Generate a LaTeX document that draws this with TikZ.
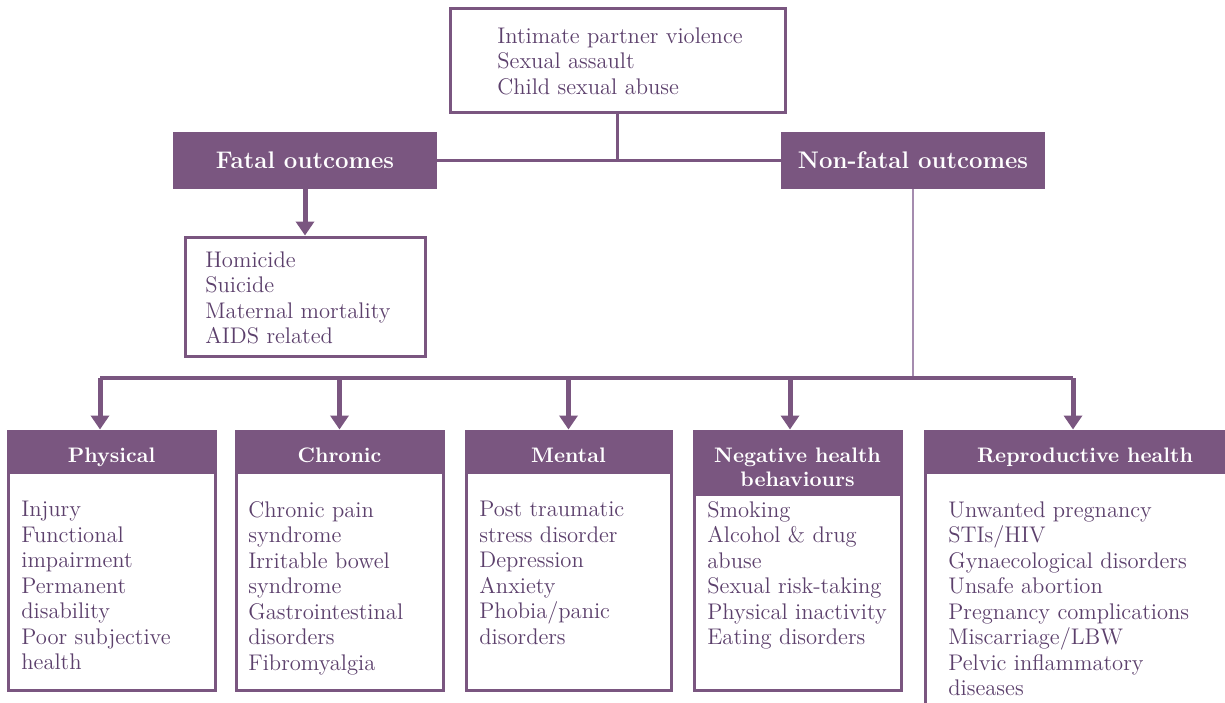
\documentclass[tikz,border=0pt]{standalone}
\usepackage{fontspec}
\usepackage{tikz}
\usetikzlibrary{arrows.meta}
\definecolor{plum}{RGB}{122,86,128}
\definecolor{plumtext}{RGB}{92,64,108}
\definecolor{plumlight}{RGB}{165,140,175}
\tikzset{
  frame/.style={draw=plum, line width=1.5pt, fill=white, inner sep=0pt},
  headbox/.style={fill=plum, text=white, inner sep=0pt, font=\bfseries\fontsize{12}{14}\selectfont},
  headbar/.style={fill=plum, text=white, inner sep=0pt, anchor=north, align=center, text height=10.5pt, text depth=0.3pt, font=\bfseries\fontsize{10.5}{12}\selectfont},
  items/.style={text=plumtext, inner sep=0pt, anchor=north west, align=left, font=\fontsize{11.3}{12.75}\selectfont},
  link/.style={draw=plum, line width=1.5pt},
  down/.style={draw=plum, line width=2.5pt, -{Triangle[width=9pt,length=7pt]}}
}

\begin{document}
\begin{tikzpicture}[x=0.5pt,y=-0.5pt]
\path[use as bounding box, clip] (0,0) rectangle (1225,702);
%forms of violence
\node[frame, minimum width=167.5pt, minimum height=52pt] (forms) at (617.5,60) {};
\node[items] (formstxt) at (497,27) {Intimate partner violence\\Sexual assault\\Child sexual abuse};
%outcomes
\node[headbox, minimum width=132pt, minimum height=28.5pt] (fatal) at (305,160.5) {Fatal outcomes};
\node[headbox, minimum width=132pt, minimum height=28.5pt] (nonfatal) at (913,160.5) {Non-fatal outcomes};
\node[frame, minimum width=120pt, minimum height=59.5pt] (deaths) at (305,296.5) {};
\node[items] (deathstxt) at (205,251) {Homicide\\Suicide\\Maternal mortality\\AIDS related};
%non-fatal boxes
\node[frame, minimum width=103.5pt, minimum height=129.5pt] (physical) at (111.5,560.5) {};
\node[headbar, minimum width=103.5pt, minimum height=22pt] (physicalhead) at (physical.north) {Physical};
\node[items] (physicaltxt) at (21,501) {Injury\\Functional\\impairment\\Permanent\\disability\\Poor subjective\\health};
\node[frame, minimum width=103.5pt, minimum height=129.5pt] (chronic) at (339.5,560.5) {};
\node[headbar, minimum width=103.5pt, minimum height=22pt] (chronichead) at (chronic.north) {Chronic};
\node[items] (chronictxt) at (248,501) {Chronic pain\\syndrome\\Irritable bowel\\syndrome\\Gastrointestinal\\disorders\\Fibromyalgia};
\node[frame, minimum width=102.5pt, minimum height=129.5pt] (mental) at (568.5,560.5) {};
\node[headbar, minimum width=102.5pt, minimum height=22pt] (mentalhead) at (mental.north) {Mental};
\node[items] (mentaltxt) at (479,501) {Post traumatic\\stress disorder\\Depression\\Anxiety\\Phobia/panic\\disorders};
\node[frame, minimum width=103.5pt, minimum height=129.5pt] (negative) at (797.5,560.5) {};
\node[headbar, minimum width=103.5pt, minimum height=33pt, text height=24pt, text depth=0pt] (negativehead) at (negative.north) {Negative health\\behaviours};
\node[items] (negativetxt) at (707,501) {Smoking\\Alcohol \& drug\\abuse\\Sexual risk-taking\\Physical inactivity\\Eating disorders};
\node[frame, minimum width=160pt, minimum height=149.5pt] (repro) at (1085,580.5) {};
\node[headbar, minimum width=160pt, minimum height=22pt] (reprohead) at (repro.north) {Reproductive health};
\node[items] (reprotxt) at (948,501) {Unwanted pregnancy\\STIs/HIV\\Gynaecological disorders\\Unsafe abortion\\Pregnancy complications\\Miscarriage/LBW\\Pelvic inflammatory\\diseases};
%connectors
\coordinate (bus) at (913,378);
\coordinate (physicalin) at ([xshift=-5.75pt]physical.north);
\coordinate (negativein) at ([xshift=-3.75pt]negative.north);
\coordinate (reproin) at ([xshift=-6pt]repro.north);
\draw[link] (forms.south) -- (forms.south |- fatal.east);
\draw[link] (fatal.east) -- (nonfatal.west);
\draw[down] (fatal.south) -- (deaths.north);
\draw[draw=plumlight, line width=1.2pt] (nonfatal.south) -- (bus);
\draw[link, line width=1.8pt] (physicalin |- bus) -- (reproin |- bus);
\draw[down] (physicalin |- bus) -- (physicalin);
\draw[down] (chronic.north |- bus) -- (chronic.north);
\draw[down] (mental.north |- bus) -- (mental.north);
\draw[down] (negativein |- bus) -- (negativein);
\draw[down] (reproin |- bus) -- (reproin);
\end{tikzpicture}
\end{document}
